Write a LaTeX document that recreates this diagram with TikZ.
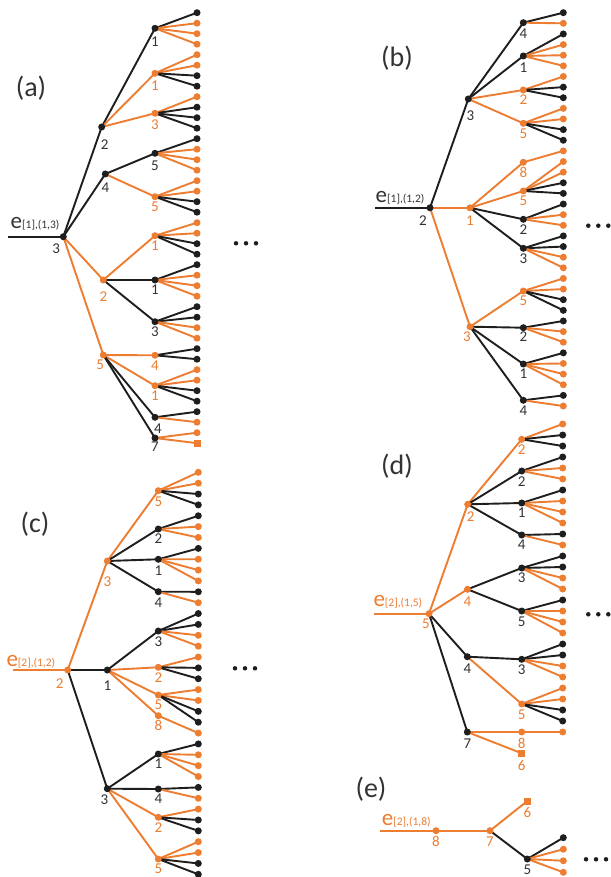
\documentclass[tikz,border=0pt]{standalone}
\usepackage{fontspec}
\setmainfont{Carlito}
\pgfdeclarelayer{bg}
\pgfsetlayers{bg,main}
\definecolor{cO}{HTML}{ED7D31}
\definecolor{cB}{HTML}{1E1E1E}
\definecolor{tB}{HTML}{333333}
\colorlet{tO}{cO}
\tikzset{
  dot/.style={circle, inner sep=0pt, minimum size=7pt},
  sq/.style={rectangle, fill=cO, inner sep=0pt, minimum size=7pt},
  ln/.style={line width=1.9pt},
  num/.style={inner sep=0pt, font=\fontsize{15}{15}\selectfont},
  panel/.style={inner sep=0pt, text=tB, font=\fontsize{28}{28}\selectfont},
  elab/.style={inner sep=0pt, anchor=base west},
  more/.style={circle, fill=cB, inner sep=0pt, minimum size=4.5pt},
}
% tree node: name, parent, colour (B/O), x, y, text, dx, dy
\newcommand\tn[8]{%
  \node[dot, fill=c#3] (#1) at (#4,#5) {};
  \node[num, text=t#3] (#1-t) at (#4+#7,#5+#8) {#6};
  \begin{pgfonlayer}{bg}\draw[ln, draw=c#3] (#2.center) -- (#1.center);\end{pgfonlayer}}
% square node: name, parent, x, y, text, dy
\newcommand\sqn[6]{%
  \node[sq] (#1) at (#3,#4) {};
  \node[num, text=tO] (#1-t) at (#3,#4+#6) {#5};
  \begin{pgfonlayer}{bg}\draw[ln, draw=cO] (#2.center) -- (#1.center);\end{pgfonlayer}}
% leaves: parent, first index, colour list
\newcommand\lvs[3]{%
  \foreach \lc [count=\k from #2] in {#3} {%
    \pgfmathsetmacro\yy{\LY+\k*\LD}%
    \node[dot, fill=c\lc] (#1-\k) at (\LX,\yy) {};
    \begin{pgfonlayer}{bg}\draw[ln, draw=c\lc] (#1.center) -- (#1-\k.center);\end{pgfonlayer}
  }}
\newcommand\eLbl[2]{{\fontsize{23}{23}\selectfont #1}{\fontsize{11.5}{11.5}\selectfont #2}}
\newcommand\moredots[3]{%
  \node[more] (#1-m1) at (#2,#3) {};
  \node[more] (#1-m2) at (#2+10,#3) {};
  \node[more] (#1-m3) at (#2+20,#3) {};}

\begin{document}
\begin{tikzpicture}[x=1pt,y=-1pt]
\begin{pgfonlayer}{bg}\fill[white] (0,0) rectangle (610,877);\end{pgfonlayer}
\useasboundingbox (0,0) rectangle (610,877);

% ---------------- (a)
\node[panel] (pa) at (31,88) {(a)};
\node[elab, text=tB] (a-e) at (10.5,228.3) {\eLbl{e}{[1],(1,3)}};
\coordinate (a-in) at (8.3,236.7);
\tn{a0}{a-in}{B}{63.3}{236.7}{3}{-7}{12}
\tn{a1}{a0}{B}{101.7}{127}{2}{3}{18}
\tn{a2}{a0}{B}{105.3}{174}{4}{0}{14}
\tn{a3}{a0}{O}{103.3}{280}{2}{0}{17}
\tn{a4}{a0}{O}{103.3}{355}{5}{-3}{10}
\tn{a11}{a1}{B}{155}{28.3}{1}{0}{13}
\tn{a12}{a1}{O}{155}{73.3}{1}{0}{12}
\tn{a13}{a1}{O}{155}{113.3}{3}{0}{11}
\tn{a21}{a2}{B}{155}{153.3}{5}{0}{12}
\tn{a22}{a2}{O}{155}{196.7}{5}{0}{10}
\tn{a31}{a3}{O}{155}{235.7}{1}{0}{10}
\tn{a32}{a3}{B}{155}{280}{1}{0}{10}
\tn{a33}{a3}{B}{155}{321.7}{3}{0}{10}
\tn{a41}{a4}{O}{155}{355.3}{4}{0}{10}
\tn{a42}{a4}{O}{155}{385.7}{1}{0}{10}
\tn{a43}{a4}{B}{155}{417.3}{4}{3}{11}
\tn{a44}{a4}{B}{155}{438}{7}{0}{9}
\def\LX{197}\def\LY{12.7}\def\LD{10.5}
\lvs{a11}{0}{B,O,O,O}
\lvs{a12}{4}{O,O,B,B}
\lvs{a13}{8}{O,B,B,B}
\lvs{a21}{12}{B,O,O,O}
\lvs{a22}{16}{O,O,B,B}
\lvs{a31}{20}{O,O,B,B}
\lvs{a32}{24}{B,O,O,O}
\lvs{a33}{28}{B,B,O,O}
\lvs{a41}{32}{B,B}
\lvs{a42}{34}{O,O,B,B}
\lvs{a43}{38}{B,O}
\lvs{a44}{40}{O}
\node[sq] (a44-41) at (197,443.2) {};
\begin{pgfonlayer}{bg}\draw[ln, draw=cO] (a44.center) -- (a44-41.center);\end{pgfonlayer}
\moredots{a}{236}{243.3}

% ---------------- (b)
\node[panel] (pb) at (397,58) {(b)};
\node[elab, text=tB] (b-e) at (375.5,202.3) {\eLbl{e}{[1],(1,2)}};
\coordinate (b-in) at (375,207.8);
\tn{b0}{b-in}{B}{430}{207.8}{2}{-7}{13}
\tn{b1}{b0}{B}{468.3}{99}{3}{2}{17}
\tn{b2}{b0}{O}{470}{207.8}{1}{0}{13}
\tn{b3}{b0}{O}{470}{326.7}{3}{-3}{10}
\tn{b11}{b1}{B}{523.3}{22.7}{4}{0}{11}
\tn{b12}{b1}{B}{523.3}{56}{1}{0}{12}
\tn{b13}{b1}{O}{523.3}{90}{2}{0}{10}
\tn{b14}{b1}{O}{523.3}{123.3}{5}{0}{10}
\tn{b21}{b2}{O}{523.3}{162.3}{8}{0}{10}
\tn{b22}{b2}{O}{523.3}{191}{5}{0}{10}
\tn{b23}{b2}{B}{523.3}{219.3}{2}{0}{10}
\tn{b24}{b2}{B}{523.3}{248.3}{3}{0}{10}
\tn{b31}{b3}{O}{523.3}{291}{5}{0}{10}
\tn{b32}{b3}{B}{523.3}{327.7}{2}{0}{9}
\tn{b33}{b3}{B}{523.3}{364}{1}{0}{10}
\tn{b34}{b3}{B}{523.3}{400.3}{4}{0}{10}
\def\LX{563.3}\def\LY{12.7}\def\LD{10.63}
\lvs{b11}{0}{B,O}
\lvs{b12}{2}{B,O,O,O}
\lvs{b13}{6}{O,B,B}
\lvs{b14}{9}{O,O,B,B}
\lvs{b21}{13}{O}
\lvs{b22}{14}{O,O,B,B}
\lvs{b23}{18}{B,O,O}
\lvs{b24}{21}{B,B,O,O}
\lvs{b31}{25}{O,O,B,B}
\lvs{b32}{29}{B,O,O}
\lvs{b33}{32}{B,O,O,O}
\lvs{b34}{36}{B,O}
\moredots{b}{588.3}{225.7}

% ---------------- (c)
\node[panel] (pc) at (35,524) {(c)};
\node[elab, text=tO] (c-e) at (6.3,666.7) {\eLbl{e}{[2],(1,2)}};
\coordinate (c-in) at (12.7,670);
\tn{c0}{c-in}{O}{67.7}{670}{2}{-8}{14}
\tn{c1}{c0}{O}{107.3}{561}{3}{0}{21}
\tn{c2}{c0}{B}{107.3}{670}{1}{0}{16}
\tn{c3}{c0}{B}{107.3}{788.7}{3}{-3}{11}
\tn{c11}{c1}{O}{158.3}{490.7}{5}{0}{11}
\tn{c12}{c1}{B}{158.3}{529}{2}{0}{10}
\tn{c13}{c1}{B}{158.3}{559.3}{1}{0}{11}
\tn{c14}{c1}{B}{158.3}{591.7}{4}{0}{11}
\tn{c21}{c2}{B}{158.3}{631}{3}{0}{11}
\tn{c22}{c2}{O}{158.3}{667.3}{2}{0}{10}
\tn{c23}{c2}{O}{158.3}{695}{5}{0}{10}
\tn{c24}{c2}{O}{158.3}{715.7}{8}{0}{10}
\tn{c31}{c3}{B}{158.3}{754}{1}{0}{10}
\tn{c32}{c3}{B}{158.3}{789}{4}{0}{10}
\tn{c33}{c3}{O}{158.3}{817.3}{2}{0}{10}
\tn{c34}{c3}{O}{158.3}{859}{5}{0}{10}
\def\LX{198.3}\def\LY{472.3}\def\LD{10.865}
\lvs{c11}{0}{O,O,B,B}
\lvs{c12}{4}{B,O,O}
\lvs{c13}{7}{B,O,O,O}
\lvs{c14}{11}{B,O}
\lvs{c21}{13}{B,B,O,O}
\lvs{c22}{17}{O,B,B}
\lvs{c23}{20}{O,O,B,B}
\lvs{c24}{24}{O}
\lvs{c31}{25}{B,O,O,O}
\lvs{c32}{29}{B,O}
\lvs{c33}{31}{O,B,B}
\lvs{c34}{34}{O,O,B,B}
\moredots{c}{235}{668.3}

% ---------------- (d)
\node[panel] (pd) at (397,466) {(d)};
\node[elab, text=tO] (d-e) at (373.3,606) {\eLbl{e}{[2],(1,5)}};
\coordinate (d-in) at (374.3,613.7);
\tn{d0}{d-in}{O}{429}{613.7}{5}{-3}{10}
\tn{d1}{d0}{O}{467.7}{504.3}{2}{3}{12}
\tn{d2}{d0}{O}{467.5}{589.3}{4}{0}{12}
\tn{d3}{d0}{B}{467.3}{656.7}{4}{0}{12}
\tn{d4}{d0}{B}{467.3}{732}{7}{0}{12}
\tn{d11}{d1}{O}{521.7}{439.3}{2}{0}{10}
\tn{d12}{d1}{B}{521.7}{471}{2}{0}{11}
\tn{d13}{d1}{B}{521.7}{503}{1}{0}{10}
\tn{d14}{d1}{B}{521.7}{535}{4}{0}{10}
\tn{d21}{d2}{B}{521.7}{568}{3}{0}{10}
\tn{d22}{d2}{B}{521.7}{611}{5}{0}{11}
\tn{d31}{d3}{B}{521.7}{659.3}{3}{0}{10}
\tn{d32}{d3}{O}{521.7}{704}{5}{0}{11}
\tn{d41}{d4}{O}{521.7}{732}{8}{0}{11}
\sqn{d42}{d4}{521.7}{753.3}{6}{12}
\def\LX{562.7}\def\LY{424}\def\LD{11}
\lvs{d11}{0}{O,B,B}
\lvs{d12}{3}{B,O,O}
\lvs{d13}{6}{B,O,O,O}
\lvs{d14}{10}{B,O}
\lvs{d21}{12}{B,B,O,O}
\lvs{d22}{16}{B,O,O,O}
\lvs{d31}{20}{B,B,O,O}
\lvs{d32}{24}{O,O,B,B}
\lvs{d41}{28}{O}
\moredots{d}{588.3}{614.3}

% ---------------- (e)
\node[panel] (pe) at (371,789) {(e)};
\node[elab, text=tO] (e-e) at (381.7,825.5) {\eLbl{e}{[2],(1,8)}};
\coordinate (e-in) at (380,830.7);
\tn{e8}{e-in}{O}{436}{830.7}{8}{0}{10.5}
\tn{e7}{e8}{O}{490}{830.7}{7}{0}{10.5}
\sqn{e6}{e7}{527.3}{801}{6}{11}
\tn{e5}{e7}{B}{527.3}{859}{5}{0}{10.5}
\def\LX{563.3}\def\LY{837.7}\def\LD{11.53}
\lvs{e5}{0}{B,O,O,O}
\moredots{e}{586}{859.3}
\end{tikzpicture}
\end{document}
